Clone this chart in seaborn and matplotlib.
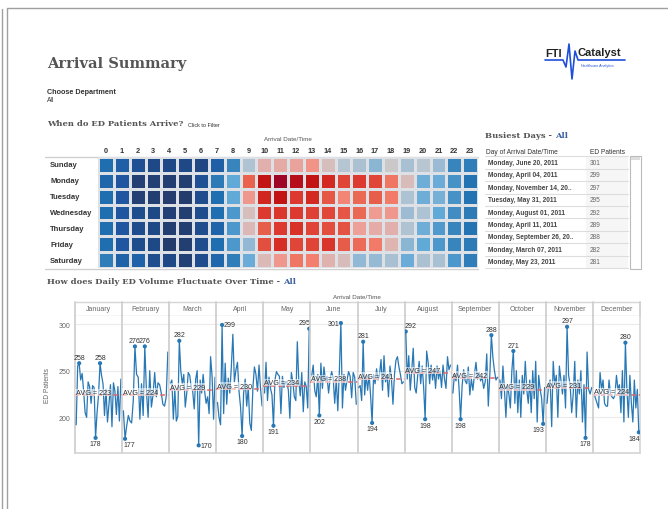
import numpy as np
import pandas as pd
import seaborn as sns
import matplotlib.pyplot as plt
from matplotlib.colors import LinearSegmentedColormap

W, H = 668, 510

# ---- heatmap: arrivals by weekday and hour ----
weekdays = ["Sunday", "Monday", "Tuesday", "Wednesday", "Thursday", "Friday", "Saturday"]
hours = list(range(24))
sun = [306, 270, 234, 216, 216, 216, 209, 270, 342, 486, 612, 623, 634, 659, 569, 497, 475, 432, 540, 468, 504, 450, 342, 331]
mon = [288, 252, 191, 191, 187, 187, 234, 324, 396, 720, 864, 900, 875, 864, 828, 767, 792, 767, 695, 576, 407, 403, 360, 313]
tue = [306, 252, 191, 187, 184, 180, 223, 306, 396, 655, 835, 864, 792, 828, 738, 677, 713, 727, 691, 479, 407, 414, 360, 313]
wed = [306, 252, 223, 216, 194, 187, 223, 306, 371, 569, 792, 799, 792, 778, 763, 738, 713, 648, 655, 454, 479, 396, 353, 324]
thu = [306, 252, 223, 216, 187, 187, 223, 281, 371, 587, 727, 792, 810, 770, 749, 745, 641, 619, 612, 486, 407, 374, 342, 313]
fri = [306, 252, 223, 216, 180, 187, 223, 306, 371, 439, 749, 821, 767, 770, 803, 731, 709, 691, 598, 432, 396, 371, 342, 324]
sat = [331, 277, 277, 227, 216, 194, 223, 288, 331, 403, 583, 655, 695, 684, 605, 576, 439, 446, 468, 403, 475, 468, 371, 331]

# ---- busiest days table ----
busiest_days = ["Monday, June 20, 2011", "Monday, April 04, 2011", "Monday, November 14, 20..",
                "Tuesday, May 31, 2011", "Monday, August 01, 2011", "Monday, April 11, 2011",
                "Monday, September 26, 20..", "Monday, March 07, 2011", "Monday, May 23, 2011"]
busiest_counts = [301, 299, 297, 295, 292, 289, 288, 282, 281]

# ---- daily ED patients, 2011 ----
months = ["January", "February", "March", "April", "May", "June", "July",
          "August", "September", "October", "November", "December"]
jan = [192, 255, 258, 240, 247, 228, 205, 200, 238, 233, 215, 234, 232, 178, 205, 224, 258, 245, 236, 202,
       230, 195, 214, 235, 190, 237, 228, 203, 233, 196, 241]
feb = [207, 177, 191, 202, 196, 194, 218, 276, 246, 243, 198, 236, 202, 276, 228, 200, 250, 211, 224, 248,
       222, 237, 235, 226, 214, 212, 222, 270]
mar = [236, 240, 198, 230, 196, 201, 282, 250, 236, 246, 211, 226, 248, 245, 232, 228, 209, 241, 250, 170,
       240, 226, 246, 228, 215, 222, 204, 265, 244, 198, 243]
apr = [216, 200, 192, 299, 204, 258, 214, 242, 226, 254, 289, 238, 251, 259, 228, 211, 180, 226, 241, 212,
       232, 194, 186, 231, 254, 246, 228, 256, 230, 212]
may = [226, 259, 218, 243, 231, 224, 191, 240, 249, 246, 244, 204, 244, 232, 238, 238, 229, 199, 248, 238,
       222, 218, 281, 239, 223, 248, 206, 238, 233, 210, 295]
jun = [244, 256, 229, 222, 246, 202, 258, 231, 254, 239, 244, 226, 241, 249, 242, 215, 241, 207, 249, 301,
       210, 246, 229, 240, 249, 244, 221, 248, 243, 214]
jul = [232, 234, 218, 281, 224, 245, 229, 246, 223, 194, 246, 236, 252, 240, 246, 262, 229, 266, 238, 246,
       222, 255, 241, 214, 246, 261, 265, 254, 246, 236, 238]
aug = [292, 241, 266, 229, 250, 274, 232, 226, 245, 260, 236, 255, 232, 198, 271, 259, 236, 256, 240, 251,
       231, 255, 241, 250, 232, 256, 241, 231, 265, 251, 256]
sep = [226, 246, 239, 256, 231, 198, 234, 251, 239, 236, 254, 224, 241, 229, 246, 259, 241, 248, 239, 243,
       231, 238, 268, 212, 246, 288, 264, 250, 240, 243]
oct_ = [240, 220, 255, 230, 200, 235, 225, 210, 250, 271, 215, 250, 205, 240, 200, 245, 225, 260, 230, 215,
        240, 205, 250, 220, 260, 195, 245, 230, 220, 193, 232]
nov = [215, 235, 240, 190, 260, 235, 245, 200, 255, 240, 225, 245, 210, 297, 245, 235, 205, 225, 260, 200,
       240, 225, 250, 195, 235, 178, 270, 230, 225, 232]
dec = [225, 220, 215, 210, 248, 230, 240, 215, 212, 212, 240, 225, 222, 220, 224, 245, 230, 235, 205, 250,
       195, 280, 230, 200, 245, 215, 195, 240, 210, 230, 184]
daily = [jan, feb, mar, apr, may, jun, jul, aug, sep, oct_, nov, dec]

sns.set_theme(style="white")
plt.rcParams['font.family'] = ['Liberation Sans', 'DejaVu Sans']
SERIF = ['DejaVu Serif']
GRAY = "#555555"
DARK = "#333333"
BLUE_TXT = "#3d64a0"
LINE_BLUE = "#2878b5"


def px_box(x0, y0, x1, y1):
    return [x0 / W, 1 - y1 / H, (x1 - x0) / W, (y1 - y0) / H]


fig = plt.figure(figsize=(W / 100, H / 100), dpi=100)
ov = fig.add_axes([0, 0, 1, 1])
ov.set_xlim(0, W)
ov.set_ylim(H, 0)
ov.axis("off")

# page frame
ov.plot([2, 2], [10, H], color="#a0a0a0", lw=1)
ov.plot([7, 7, W], [H, 9, 9], color="#a0a0a0", lw=1)

# header texts
ov.text(47, 64, "Arrival Summary", family=SERIF, fontweight="bold", fontsize=10.5, color=GRAY, va="center")
ov.text(47, 92, "Choose Department", fontweight="bold", fontsize=5.2, color=DARK, va="center")
ov.text(47, 100, "All", fontsize=4.8, color=DARK, va="center")
t = ov.text(47, 126, "When do ED Patients Arrive?", family=SERIF, fontweight="bold", fontsize=6, color=GRAY, va="baseline")
ov.annotate("Click to Filter", xy=(1, 0), xycoords=t, xytext=(3, 0), textcoords="offset points",
            fontsize=4, color=DARK, va="bottom")

# logo
ov.plot([545, 563, 566, 569, 572, 575, 578, 625], [61, 61, 68, 45, 80, 52, 61, 61], color="#1f4fd8", lw=1.2)
ov.text(545, 54, "FTI", fontweight="bold", fontsize=8, color="#222222", va="center")
ov.text(577, 53, "Catalyst", fontweight="bold", fontsize=8, color="#222222", va="center")
ov.text(581, 66, "Healthcare Analytics", fontsize=2.6, color="#1f4fd8", va="center")

# ---- heatmap ----
heat = pd.DataFrame([sun, mon, tue, wed, thu, fri, sat], index=weekdays, columns=hours)
heat_stops = [(0, "#243c6c"), (1, "#1f4a88"), (2, "#1f57a0"), (3.5, "#1f6fb0"), (4, "#2c7ab6"),
              (5, "#4591c6"), (6, "#62aad8"), (7, "#8bb6d4"), (8, "#a8c0d2"), (9, "#b8c6d2"),
              (10, "#c9c9c9"), (11, "#d8bcb9"), (12, "#e2b0ac"), (13, "#ef9c93"), (14, "#f4806f"),
              (15, "#e9634f"), (16, "#e24b3b"), (17, "#dc3a30"), (18, "#d42a22"), (19, "#c41414"),
              (20, "#9e0425")]
cmap = LinearSegmentedColormap.from_list("edheat", [(p / 20, c) for p, c in heat_stops])
ax_h = fig.add_axes(px_box(98, 158, 478, 269))
sns.heatmap(heat, ax=ax_h, cmap=cmap, vmin=180, vmax=900, cbar=False, linewidths=1.0, linecolor="#dde1e5",
            xticklabels=True, yticklabels=True)
ax_h.xaxis.tick_top()
ax_h.tick_params(axis="x", length=0, pad=2)
ax_h.tick_params(axis="y", length=0, pad=34.5)
ax_h.set_xticklabels([str(h) for h in hours], fontsize=5.3, fontweight="bold", color=DARK)
ax_h.set_yticklabels(weekdays, rotation=0, fontsize=5.5, fontweight="bold", color=DARK, ha="left")
ax_h.set_xlabel("")
ax_h.set_ylabel("")
ov.text(288, 140, "Arrival Date/Time", fontsize=4.5, color=GRAY, ha="center", va="center")
for yy in (157.5, 269.5):
    ov.plot([45, 478], [yy, yy], color="#d0d0d0", lw=1)

# ---- busiest days table ----
t = ov.text(485, 138, "Busiest Days - ", family=SERIF, fontweight="bold", fontsize=6, color=GRAY, va="baseline")
ov.annotate("All", xy=(1, 0), xycoords=t, fontsize=6, family=SERIF, fontweight="bold", color=BLUE_TXT, va="bottom")
ov.text(486, 152.5, "Day of Arrival Date/Time", fontsize=4.8, color=DARK, va="center")
ov.text(590, 152.5, "ED Patients", fontsize=4.8, color=DARK, va="center")
row_h = 12.4
for i, (day, cnt) in enumerate(zip(busiest_days, busiest_counts)):
    top = 157.3 + i * row_h
    ov.add_patch(plt.Rectangle((586, top), 42, row_h, color="#f6f6f6", lw=0))
    ov.text(488, top + row_h / 2, day, fontsize=4.7, fontweight="bold", color="#444444", va="center")
    ov.text(590, top + row_h / 2, str(cnt), fontsize=4.7, color="#666666", va="center")
    ov.plot([485, 628], [top, top], color="#dddddd", lw=0.8)
ov.plot([485, 628], [157.3 + 9 * row_h] * 2, color="#dddddd", lw=0.8)
ov.add_patch(plt.Rectangle((630, 157), 11, 113, fill=False, ec="#bbbbbb", lw=0.8))
ov.add_patch(plt.Rectangle((631, 158), 9, 3, color="#dddddd", lw=0))

# ---- daily volume panels ----
t = ov.text(47, 284, "How does Daily ED Volume Fluctuate Over Time - ", family=SERIF, fontweight="bold",
            fontsize=6, color=GRAY, va="baseline")
ov.annotate("All", xy=(1, 0), xycoords=t, fontsize=6, family=SERIF, fontweight="bold", color=BLUE_TXT, va="bottom")
ov.text(357, 297.5, "Arrival Date/Time", fontsize=4.5, color=GRAY, ha="center", va="center")

left, right = 75, 640
pw = (right - left) / 12
hdr_top, plot_top, plot_bot = 303.3, 316.7, 454
ov.plot([left, right], [hdr_top, hdr_top], color="#d6d6d6", lw=1)
ov.plot([left, right], [plot_top, plot_top], color="#d6d6d6", lw=1)
YLIM = (161.8, 308.9)

for i, (name, vals) in enumerate(zip(months, daily)):
    x0 = left + i * pw
    n = len(vals)
    ov.plot([x0, x0], [hdr_top, plot_top], color="#cccccc", lw=1.2)
    ov.text(x0 + pw / 2, (hdr_top + plot_top) / 2, name, fontsize=5, color="#666666", ha="center", va="center")
    ax = fig.add_axes(px_box(x0, plot_top, x0 + pw, plot_bot))
    d = pd.DataFrame({"day": np.arange(1, n + 1), "patients": vals})
    sns.lineplot(data=d, x="day", y="patients", ax=ax, color=LINE_BLUE, lw=0.9, zorder=3)
    ax.set_ylim(*YLIM)
    ax.set_xlim(0.2, n + 0.8)
    ax.set_yticks([200, 250, 300])
    ax.yaxis.grid(True, color="#ebebeb", lw=0.8)
    ax.set_axisbelow(True)
    ax.set_xticks([])
    ax.set_xlabel("")
    ax.set_ylabel("")
    for s in ("top", "right"):
        ax.spines[s].set_visible(False)
    ax.spines["left"].set_color("#cccccc")
    ax.spines["left"].set_linewidth(1.2)
    ax.spines["bottom"].set_color("#d6d6d6")
    if i == 11:
        ax.spines["right"].set_visible(True)
        ax.spines["right"].set_color("#d6d6d6")
    if i == 0:
        ax.tick_params(axis="y", length=0, pad=3, labelsize=5, labelcolor="#666666")
        ax.set_ylabel("ED Patients", fontsize=4.8, color="#666666", labelpad=6)
    else:
        ax.tick_params(axis="y", length=0, labelleft=False)

    avg = float(np.mean(vals))
    ax.axhline(avg, color="#e06666", lw=1.1, ls=(0, (3, 2)), zorder=4)
    ax.text(0.6, avg - 0.5, f"AVG = {avg:.0f}", fontsize=5.2, color=DARK, va="bottom", ha="left", zorder=5,
            bbox=dict(boxstyle="square,pad=0.05", fc="white", ec="none", alpha=0.55))

    vmax, vmin = max(vals), min(vals)
    ext = d[(d.patients == vmax) | (d.patients == vmin)]
    sns.scatterplot(data=ext, x="day", y="patients", ax=ax, color=LINE_BLUE, s=9, edgecolor="none", zorder=6)
    for day, v in zip(ext.day, ext.patients):
        ha, xx = "center", day
        if day >= n - 1:
            ha, xx = "right", day + 0.6
        elif day <= 2:
            ha, xx = "left", day - 0.8
        if v == vmax:
            if v >= 298:
                if day <= n / 2:
                    ax.text(day + 0.9, v, str(v), fontsize=5, color=DARK, ha="left", va="center", zorder=7)
                else:
                    ax.text(day - 0.9, v, str(v), fontsize=5, color=DARK, ha="right", va="center", zorder=7)
            else:
                ax.text(xx, v + 2.5, str(v), fontsize=5, color=DARK, ha=ha, va="bottom", zorder=7)
        else:
            if v < 176:
                ax.text(day + 0.9, v, str(v), fontsize=5, color=DARK, ha="left", va="center", zorder=7)
            else:
                ax.text(xx, v - 2.5, str(v), fontsize=5, color=DARK, ha=ha, va="top", zorder=7)

ov.plot([right, right], [hdr_top, plot_top], color="#cccccc", lw=1.2)

fig.savefig("out.png", dpi=100)
